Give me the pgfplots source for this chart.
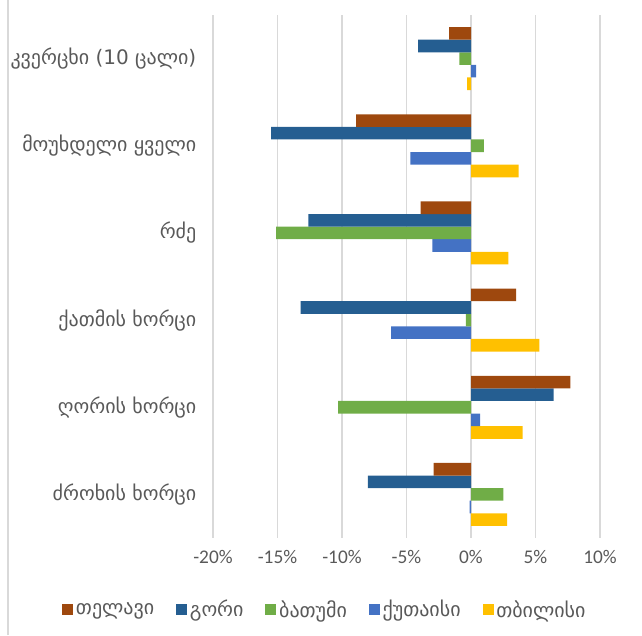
\documentclass[border=0pt]{standalone}
\usepackage{fontspec}
\setmainfont{Carlito}
\newfontfamily\geo{DejaVu Sans}
\usepackage{pgfplots}
\pgfplotsset{compat=1.18}
\definecolor{cBrown}{HTML}{9E480E}
\definecolor{cDark}{HTML}{255E91}
\definecolor{cGreen}{HTML}{70AD47}
\definecolor{cBlue}{HTML}{4472C4}
\definecolor{cYellow}{HTML}{FFC000}
\definecolor{cText}{HTML}{595959}
\definecolor{cGrid}{HTML}{D9D9D9}
\begin{document}
\begin{tikzpicture}
\useasboundingbox (-159.75pt,-72.75pt) rectangle (321.75pt,403.5pt);
\draw[cGrid, line width=0.9pt] (-153.75pt,-72.75pt) -- (-153.75pt,403.5pt);
\begin{axis}[
  at={(0,0)}, anchor=south west,
  scale only axis,
  width=290.25pt, height=392.25pt,
  xbar=0pt, bar width=9.45pt,
  y dir=reverse,
  xmin=-20, xmax=10, ymin=-0.5, ymax=5.5,
  xtick={-20,-15,...,10},
  xticklabel={\pgfmathprintnumber{\tick}\%},
  /pgf/number format/assume math mode=true,
  ytick={0,1,2,3,4,5},
  yticklabels={{კვერცხი (10 ცალი)},{მოუხდელი ყველი},{რძე},{ქათმის ხორცი},{ღორის ხორცი},{ძროხის ხორცი}},
  yticklabel style={font=\geo\fontsize{15}{17}\selectfont, text=cText, xshift=-9pt},
  xticklabel style={font=\fontsize{14.5}{16}\selectfont, text=cText, yshift=-6pt},
  axis line style={draw=none},
  major tick length=0pt,
  xmajorgrids, grid style={cGrid, line width=1.1pt},
  legend columns=-1,
  reverse legend,
  legend style={at={(0.29,-0.137)}, anchor=center, draw=none, fill=none,
    font=\geo\fontsize{15}{17}\selectfont, text=cText,
    /tikz/every even column/.append style={column sep=14.5pt}},
  legend image code/.code={\fill[#1] (0pt,-4.1pt) rectangle (8.25pt,4.1pt);},
  every axis plot/.append style={draw=none},
]
\addplot[fill=cYellow] coordinates {(-0.3,0) (3.7,1) (2.9,2) (5.3,3) (4.0,4) (2.8,5)};
\addplot[fill=cBlue] coordinates {(0.4,0) (-4.7,1) (-3.0,2) (-6.2,3) (0.7,4) (-0.1,5)};
\addplot[fill=cGreen] coordinates {(-0.9,0) (1.0,1) (-15.1,2) (-0.4,3) (-10.3,4) (2.5,5)};
\addplot[fill=cDark] coordinates {(-4.1,0) (-15.5,1) (-12.6,2) (-13.2,3) (6.4,4) (-8.0,5)};
\addplot[fill=cBrown] coordinates {(-1.7,0) (-8.9,1) (-3.9,2) (3.5,3) (7.7,4) (-2.9,5)};
\legend{თბილისი,ქუთაისი,ბათუმი,გორი,თელავი}
\end{axis}
\end{tikzpicture}
\end{document}
